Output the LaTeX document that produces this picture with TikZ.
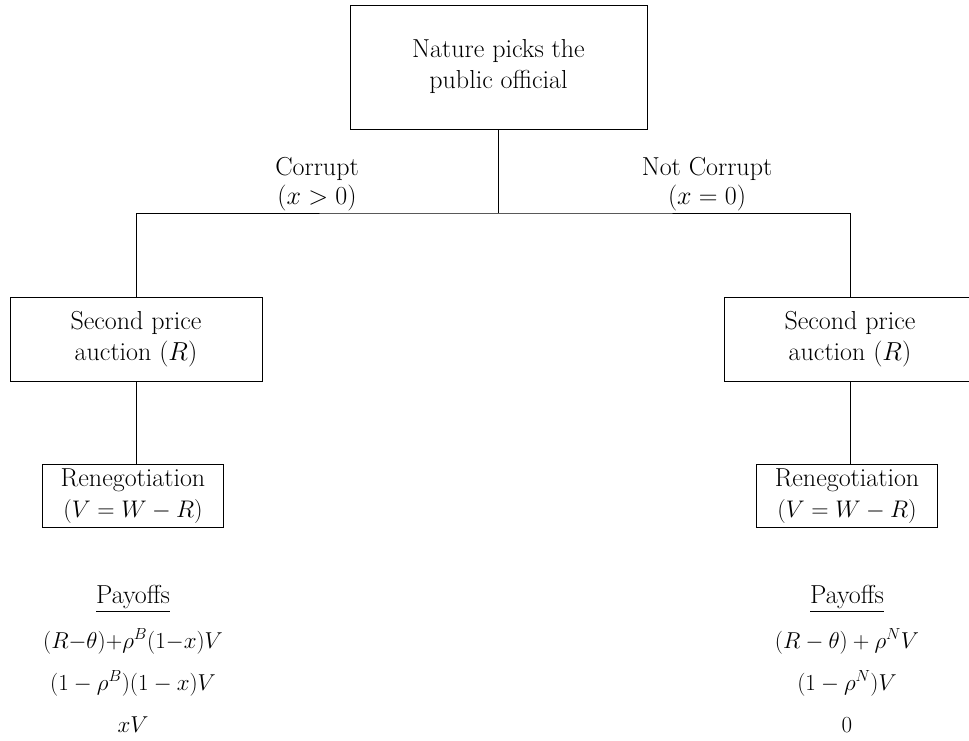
\documentclass[tikz,border=0pt]{standalone}
\usepackage{fix-cm}
\usepackage{amsmath}
\usepackage{fontspec}

\tikzset{
  stage/.style={draw, rectangle, align=center, inner sep=0pt},
  payoff/.style={anchor=base, inner sep=0pt, font=\fontsize{23}{31}\selectfont},
}

\begin{document}
\begin{tikzpicture}[x=1pt,y=-1pt,font=\fontsize{26}{31}\selectfont,line width=0.9pt]
        \useasboundingbox (0,0) rectangle (969,740);

        % Nature moves first
        \node[stage, minimum width=297pt, minimum height=124pt] (nature) at (498.5,67) {Nature picks the\\public official};

        % Auction stage
        \node[stage, minimum width=252pt, minimum height=84pt] (auctionC) at (136,339) {Second price\\auction ($R$)};
        \node[stage, minimum width=252pt, minimum height=84pt] (auctionN) at (850,339) {Second price\\auction ($R$)};

        % Renegotiation stage
        \node[stage, minimum width=181pt, minimum height=63pt] (renegC) at (133,496) {Renegotiation\\{\fontsize{24}{31}\selectfont($V = W - R$)}};
        \node[stage, minimum width=181pt, minimum height=63pt] (renegN) at (847,496) {Renegotiation\\{\fontsize{24}{31}\selectfont($V = W - R$)}};

        % Branches
        \coordinate (split) at (498.5,213);
        \draw (nature.south) -- (split);
        \draw (auctionC.north) |- (split) -| (auctionN.north);
        \draw (auctionC.south) -- (auctionC.south |- renegC.north);
        \draw (auctionN.south) -- (auctionN.south |- renegN.north);

        % Branch labels
        \node[anchor=south, align=center, inner sep=0pt, font=\fontsize{26}{29}\selectfont] (corrupt) at (317,211) {Corrupt\\($x > 0$)};
        \node[anchor=south, align=center, inner sep=0pt, font=\fontsize{26}{29}\selectfont] (honest) at (707,211) {Not Corrupt\\($x = 0$)};

        % Payoffs, corrupt official
        \node[payoff, font=\fontsize{26}{31}\selectfont] (payC) at (133,603) {\underline{Payoffs}};
        \node[payoff] (payC1) at (133,648) {$(R{-}\theta){+}\rho^B(1{-}x)V$};
        \node[payoff] (payC2) at (133,690) {$(1 - \rho^B)(1 - x)V$};
        \node[payoff] (payC3) at (133,732) {$xV$};

        % Payoffs, honest official
        \node[payoff, font=\fontsize{26}{31}\selectfont] (payN) at (847,603) {\underline{Payoffs}};
        \node[payoff] (payN1) at (847,648) {$(R - \theta) + \rho^N V$};
        \node[payoff] (payN2) at (847,690) {$(1 - \rho^N)V$};
        \node[payoff] (payN3) at (847,732) {$0$};
    \end{tikzpicture}
\end{document}
